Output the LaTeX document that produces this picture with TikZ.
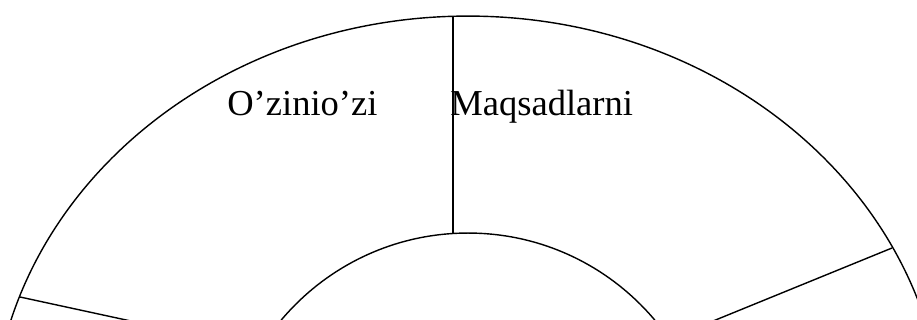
\documentclass[tikz,border=0pt]{standalone}
\usepackage{fontspec}
\setmainfont{Liberation Serif}
\usetikzlibrary{positioning}

\begin{document}
\begin{tikzpicture}[
    x=0.02cm, y=-0.02cm,
    rim/.style={
        draw=black,
        line width=0.8pt
    },
    spoke/.style={
        draw=black,
        line width=0.8pt
    },
    sector/.style={
        inner sep=0pt,
        anchor=base west,
        font=\fontsize{20.8}{24}\selectfont
    }
]

    % -- Frame --
    \useasboundingbox (0,0) rectangle (917,320);
    \clip (0,0) rectangle (917,320);

    % Centres and spoke ends
    \coordinate (outer) at (468,438);
    \coordinate (inner) at (468,477);
    \coordinate (topout) at (453,16);
    \coordinate (topin) at (453,233);
    \coordinate (leftout) at (20,297);
    \coordinate (leftin) at (260,349);
    \coordinate (rightout) at (892,248);
    \coordinate (rightin) at (669,339);

    % -- Rings --
    \draw[rim] (outer) ellipse [x radius=9.52cm, y radius=8.44cm];
    \draw[rim] (inner) circle [radius=4.88cm];

    % -- Spokes --
    \draw[spoke] (topout) -- (topin);
    \draw[spoke] (leftout) -- (leftin);
    \draw[spoke] (rightout) -- (rightin);

    % Sector labels
    \node[sector] (self) at (227,116) {O’zinio’zi};
    \node[sector] (goals) at (450,116) {Maqsadlarni};

\end{tikzpicture}
\end{document}
